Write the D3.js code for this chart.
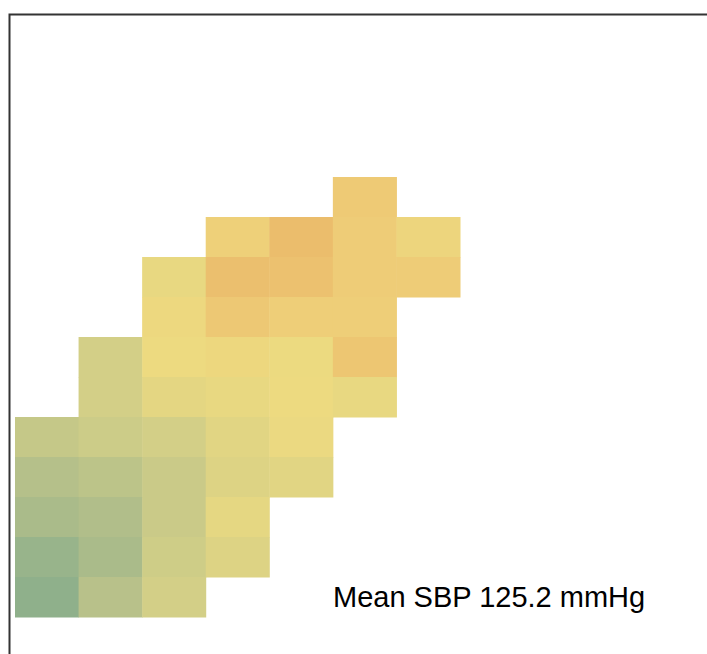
<!DOCTYPE html>
<html lang="en">
<head>
    <meta charset="UTF-8">
    <title>Mean SBP heatmap</title>
    <script src="https://d3js.org/d3.v7.min.js"></script>
    <style>
        body { margin: 0; background: #fff; font-family: "Liberation Sans", Arial, sans-serif; }
    </style>
</head>
<body>
    <div id="chart"></div>
    <script>
        // bins (no axis labels are shown in the picture)
        const colBins = ["c1", "c2", "c3", "c4", "c5", "c6", "c7"];
        const rowBins = ["r1", "r2", "r3", "r4", "r5", "r6", "r7", "r8", "r9", "r10", "r11"];

        // mean SBP (mmHg) per cell, top row first; null = no data
        const row1  = [null, null, null, null, null, 134,  null];
        const row2  = [null, null, null, 131,  140,  133,  128];
        const row3  = [null, null, 123.5, 139, 138,  133,  133];
        const row4  = [null, null, 126,  135,  132,  132,  null];
        const row5  = [null, 117,  125,  126.5, 124.7, 136, null];
        const row6  = [null, 117,  122.2, 123.5, 125, 123.5, null];
        const row7  = [114,  115.5, 117, 121.3, 124.4, null, null];
        const row8  = [110.5, 112, 115,  120,  121.3, null, null];
        const row9  = [107.5, 109.5, 115, 122.5, null, null, null];
        const row10 = [102.5, 107.5, 116, 120, null, null, null];
        const row11 = [100,  111,  117,  null, null, null, null];
        const rows = [row1, row2, row3, row4, row5, row6, row7, row8, row9, row10, row11];

        const meanSBP = 125.2;

        const W = 707, H = 654;
        const svg = d3.select("#chart").append("svg")
            .attr("width", W)
            .attr("height", H);

        const x = d3.scaleBand().domain(colBins).range([15, 460]);
        const y = d3.scaleBand().domain(rowBins).range([177, 617]);

        const color = d3.scaleLinear()
            .domain([100, 110, 117, 125, 133, 140])
            .range(["#8fb08b", "#b3bf8a", "#d3cf87", "#edda80", "#eecc77", "#ebbd6c"])
            .clamp(true);

        const cells = [];
        rows.forEach((vals, i) => {
            vals.forEach((v, j) => {
                if (v !== null) cells.push({ row: rowBins[i], col: colBins[j], value: v });
            });
        });

        svg.append("g").selectAll("rect")
            .data(cells)
            .enter()
            .append("rect")
            .attr("x", d => x(d.col))
            .attr("y", d => y(d.row))
            .attr("width", x.bandwidth() + 0.5)
            .attr("height", y.bandwidth() + 0.5)
            .attr("fill", d => color(d.value));

        // frame (top and left edges visible)
        svg.append("path")
            .attr("d", `M9.5,${H} L9.5,14.5 L${W},14.5`)
            .attr("fill", "none")
            .attr("stroke", "#333")
            .attr("stroke-width", 2);

        svg.append("text")
            .attr("x", 333)
            .attr("y", 607)
            .attr("font-size", 29)
            .attr("fill", "#000")
            .text(`Mean SBP ${meanSBP.toFixed(1)} mmHg`);
    </script>
</body>
</html>
